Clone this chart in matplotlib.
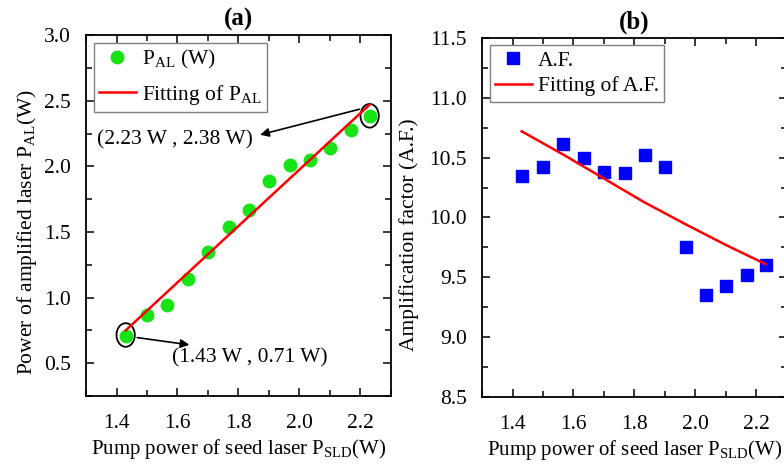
import numpy as np
import matplotlib
matplotlib.use("Agg")
import matplotlib.pyplot as plt
from matplotlib.patches import Ellipse
from matplotlib.ticker import MultipleLocator

plt.rcParams['font.family'] = ['Liberation Serif', 'DejaVu Serif']
plt.rcParams['mathtext.fontset'] = 'custom'
plt.rcParams['mathtext.rm'] = 'Liberation Serif'
plt.rcParams['mathtext.it'] = 'Liberation Serif:italic'
plt.rcParams['mathtext.bf'] = 'Liberation Serif:bold'

# potencia de bombeo del laser semilla [W]
p_sld = [1.43, 1.50, 1.565, 1.635, 1.70, 1.77, 1.835, 1.90, 1.97, 2.035, 2.10, 2.17, 2.23]
# potencia del laser amplificado [W]
p_al = [0.71, 0.87, 0.94, 1.14, 1.35, 1.54, 1.67, 1.89, 2.01, 2.05, 2.14, 2.28, 2.38]
# factor de amplificacion
af = [10.35, 10.42, 10.61, 10.50, 10.38, 10.37, 10.52, 10.42, 9.75, 9.35, 9.43, 9.52, 9.60]

# ajustes
fit_al_x = [1.43, 2.23]
fit_al_y = [0.75, 2.47]
fit_af_x = [1.43, 1.57, 1.70, 1.83, 1.97, 2.10, 2.23]
fit_af_y = [10.72, 10.52, 10.325, 10.13, 9.94, 9.77, 9.61]

fs = 15.5
verde = '#17e317'

fig = plt.figure(figsize=(7.84, 4.70), dpi=100)
ax1 = fig.add_axes([0.1097, 0.1574, 0.389, 0.768])
ax2 = fig.add_axes([0.6148, 0.1553, 0.389, 0.764])


def estilo(ax):
    ax.set_xlim(1.3, 2.3)
    ax.xaxis.set_major_locator(MultipleLocator(0.2))
    ax.xaxis.set_minor_locator(MultipleLocator(0.1))
    ax.tick_params(which='both', direction='in', top=True, right=True,
                   labelsize=fs, width=1.1)
    ax.tick_params(axis='y', pad=11)
    ax.tick_params(axis='x', pad=13)
    ax.tick_params(which='major', length=6)
    ax.tick_params(which='minor', length=4)
    for s in ax.spines.values():
        s.set_linewidth(1.3)
    ax.set_xlabel(r'Pump power of seed laser P$_{\mathrm{SLD}}$(W)', fontsize=15, labelpad=3)


def leyenda(ax, sep):
    ax.legend(loc='upper left', fontsize=fs, fancybox=False, edgecolor='gray',
              handlelength=1.7, handletextpad=0.3, borderaxespad=0.35,
              borderpad=0.25, labelspacing=sep, framealpha=1)


# (a) potencia amplificada
ax1.plot(p_sld, p_al, 'o', color=verde, markersize=9, label=r'P$_{\mathrm{AL}}$ (W)')
ax1.plot(fit_al_x, fit_al_y, '-', color='red', lw=1.8, label=r'Fitting of P$_{\mathrm{AL}}$')
estilo(ax1)
ax1.set_ylim(0.25, 3.0)
ax1.yaxis.set_major_locator(MultipleLocator(0.5))
ax1.yaxis.set_minor_locator(MultipleLocator(0.25))
ax1.set_ylabel(r'Power of amplified laser P$_{\mathrm{AL}}$(W)', fontsize=fs)
ax1.yaxis.set_label_coords(-0.155, 0.455)
ax1.set_title('(a)', fontsize=18, fontweight='bold', pad=7)
leyenda(ax1, 0.55)

# marcas de los extremos
for (cx, cy) in [(p_sld[0], p_al[0]), (p_sld[-1], p_al[-1])]:
    ax1.add_patch(Ellipse((cx, cy + 0.005), 0.06, 0.18, fill=False, ec='black', lw=1.3))

ax1.annotate('', xy=(1.648, 0.637), xytext=(1.459, 0.698),
             arrowprops=dict(arrowstyle='-|>', color='black', lw=1.2, mutation_scale=13))
ax1.text(1.583, 0.54, '(%.2f W , %.2f W)' % (p_sld[0], p_al[0]), fontsize=fs, va='center')
ax1.annotate('', xy=(1.862, 2.235), xytext=(2.205, 2.44),
             arrowprops=dict(arrowstyle='-|>', color='black', lw=1.2, mutation_scale=13))
ax1.text(1.336, 2.20, '(%.2f W , %.2f W)' % (p_sld[-1], p_al[-1]), fontsize=fs, va='center')

# (b) factor de amplificacion
ax2.plot(p_sld, af, 's', color='blue', markersize=8, label='A.F.')
ax2.plot(fit_af_x, fit_af_y, '-', color='red', lw=1.8, label='Fitting of A.F.')
estilo(ax2)
ax2.set_ylim(8.5, 11.5)
ax2.yaxis.set_major_locator(MultipleLocator(0.5))
ax2.yaxis.set_minor_locator(MultipleLocator(0.25))
ax2.set_ylabel('Amplification factor (A.F.)', fontsize=fs)
ax2.yaxis.set_label_coords(-0.205, 0.452)
ax2.set_title('(b)', fontsize=18, fontweight='bold', pad=7)
leyenda(ax2, 0.25)

fig.savefig('out.png', dpi=100)
